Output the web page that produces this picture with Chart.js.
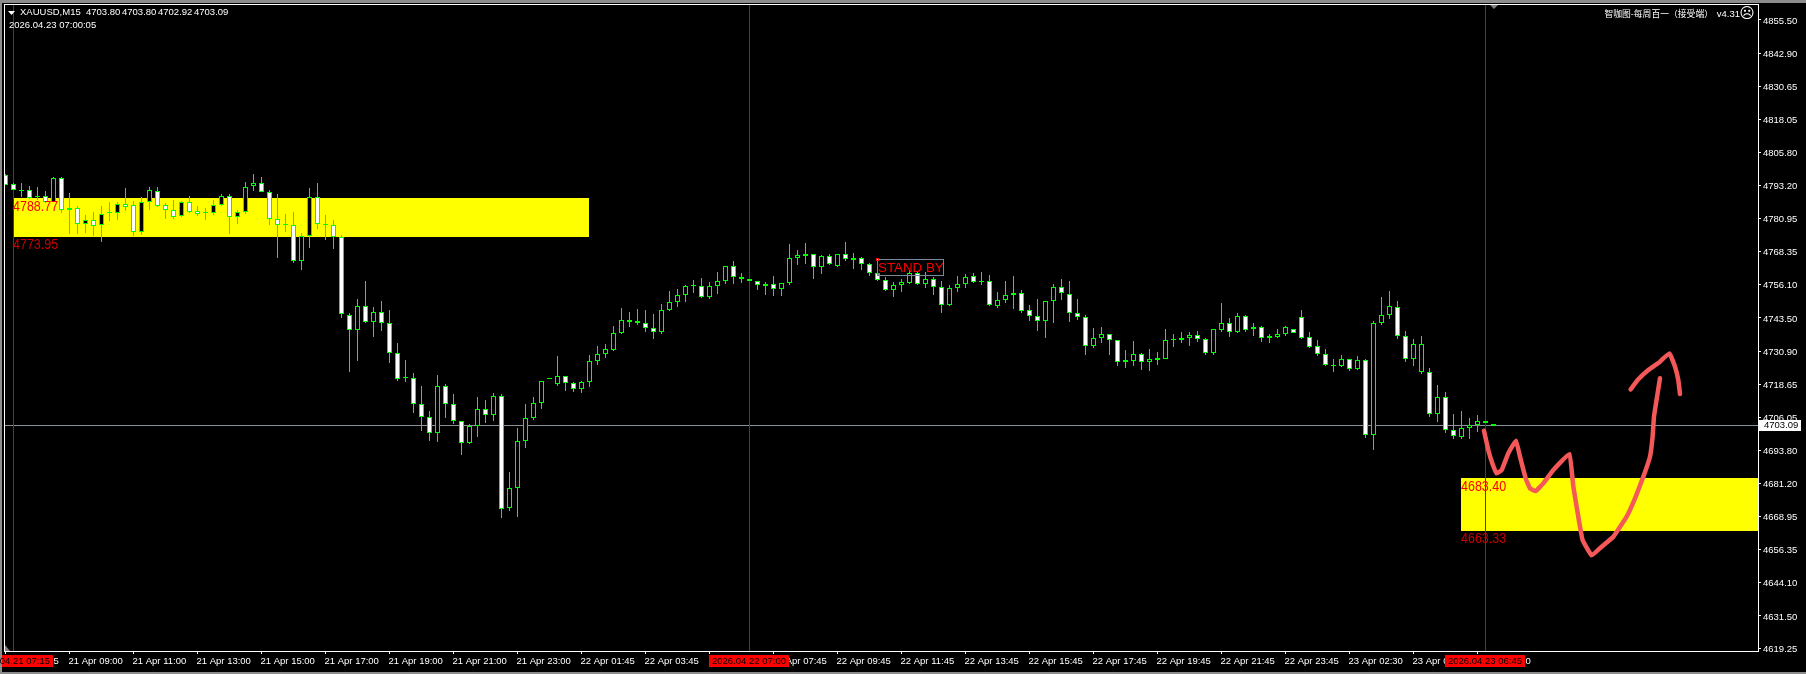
<!DOCTYPE html>
<html>
<head>
<meta charset="utf-8">
<style>
html, body { margin: 0; padding: 0; background: #000; overflow: hidden; }
canvas { display: block; }
</style>
<script src="https://cdn.jsdelivr.net/npm/chart.js@4/dist/chart.umd.min.js"></script>
</head>
<body>
<canvas id="c" width="1806" height="674"></canvas>
<script>
// XAUUSD M15, bar values
var opens = [
  4797.1,4793.7,4791.7,4791.5,4789.2,4789.2,4787.2,4796.0,4783.9,4784.7,
  4778.7,4780.2,4778.3,4782.8,4782.8,4786.2,4785.8,4775.7,4787.0,4791.1,
  4785.8,4783.9,4781.7,4787.0,4783.6,4782.8,4782.8,4785.8,4789.2,4781.3,
  4783.2,4793.0,4794.1,4790.7,4780.6,4778.3,4778.3,4764.8,4774.4,4788.9,
  4778.6,4778.3,4773.8,4744.5,4738.9,4747.9,4742.1,4745.6,4741.5,4730.2,
  4720.8,4720.8,4711.0,4706.2,4700.1,4717.8,4711.0,4704.6,4696.4,4702.8,
  4709.2,4707.1,4714.0,4671.9,4679.5,4697.1,4705.8,4711.4,4720.4,4718.6,
  4721.6,4718.9,4716.7,4719.3,4727.2,4729.8,4731.3,4737.7,4742.8,4742.4,
  4741.8,4739.6,4738.1,4746.4,4749.4,4752.0,4755.4,4755.4,4751.3,4755.4,
  4757.3,4762.9,4758.8,4758.0,4757.3,4755.4,4756.1,4754.3,4756.5,4765.9,
  4767.5,4767.4,4762.5,4766.7,4763.2,4767.4,4765.9,4765.9,4763.7,4760.3,
  4757.6,4753.9,4755.8,4756.8,4760.3,4756.1,4758.0,4755.0,4748.2,4754.6,
  4756.1,4759.2,4756.9,4757.3,4748.0,4750.1,4752.0,4752.8,4746.4,4744.1,
  4742.2,4750.0,4755.0,4752.4,4745.2,4743.7,4732.8,4735.9,4737.4,4735.1,
  4727.6,4727.4,4729.8,4726.8,4728.4,4728.2,4735.1,4735.1,4736.1,4737.0,
  4735.5,4730.2,4739.1,4741.5,4738.4,4744.1,4739.2,4740.0,4736.6,4736.5,
  4737.4,4739.2,4743.7,4736.2,4732.8,4729.8,4725.6,4725.6,4728.0,4724.2,
  4727.6,4699.4,4741.5,4744.5,4747.5,4736.6,4728.0,4723.1,4723.1,4707.3,
  4713.7,4701.3,4698.6,4702.0,4703.2,4704.7,4703.80
];
var highs = [
  4797.6,4794.1,4794.2,4793.1,4792.7,4791.2,4796.4,4796.4,4790.5,4785.6,
  4782.1,4783.3,4785.6,4787.1,4787.1,4792.4,4787.3,4788.9,4792.6,4792.6,
  4786.6,4787.8,4787.5,4789.2,4785.6,4784.8,4787.8,4790.1,4790.1,4783.9,
  4794.5,4797.6,4796.4,4791.5,4790.0,4782.6,4783.3,4775.3,4792.4,4794.2,
  4782.2,4780.3,4774.6,4745.2,4750.6,4757.3,4747.6,4749.9,4746.5,4734.1,
  4727.7,4722.8,4717.9,4708.5,4722.1,4718.7,4714.9,4704.6,4703.6,4713.8,
  4712.7,4715.3,4714.9,4685.6,4702.1,4711.2,4713.8,4720.0,4720.4,4729.2,
  4721.6,4719.4,4719.7,4729.6,4733.0,4733.7,4740.5,4747.2,4745.7,4746.9,
  4746.5,4745.0,4748.8,4753.6,4754.4,4755.9,4757.8,4758.5,4757.0,4760.8,
  4763.0,4764.9,4760.4,4758.0,4757.3,4757.0,4759.3,4756.5,4771.3,4769.0,
  4771.7,4767.6,4767.2,4767.4,4767.4,4772.1,4767.9,4766.3,4764.0,4760.9,
  4759.0,4756.9,4758.0,4761.5,4760.9,4760.8,4758.9,4757.4,4755.9,4759.3,
  4760.0,4760.4,4760.8,4759.7,4753.3,4757.4,4759.3,4754.0,4748.4,4750.6,
  4749.9,4756.3,4758.2,4757.4,4750.6,4744.5,4739.7,4740.1,4737.4,4735.2,
  4731.5,4734.8,4730.2,4731.8,4730.7,4739.4,4737.5,4738.2,4738.2,4738.6,
  4735.9,4739.2,4749.1,4743.5,4745.4,4744.6,4741.6,4740.5,4737.5,4739.4,
  4740.4,4739.2,4746.5,4738.2,4735.2,4731.8,4728.1,4729.6,4728.0,4729.2,
  4728.0,4742.2,4751.4,4753.6,4749.9,4738.6,4735.6,4736.7,4724.7,4718.3,
  4715.7,4707.4,4708.5,4705.9,4707.0,4704.7,4703.80
];
var lows = [
  4793.6,4791.6,4789.0,4788.3,4787.8,4786.6,4787.2,4783.1,4775.1,4775.1,
  4775.4,4774.3,4772.0,4779.9,4780.3,4783.6,4774.3,4774.7,4784.1,4785.3,
  4780.7,4780.7,4781.5,4782.8,4781.8,4780.5,4782.2,4785.6,4775.1,4778.8,
  4782.7,4791.2,4790.7,4778.4,4766.0,4775.8,4764.3,4761.5,4769.8,4776.9,
  4772.8,4769.4,4743.6,4723.2,4727.3,4741.6,4736.3,4738.6,4726.6,4719.9,
  4719.4,4707.8,4701.0,4697.3,4696.9,4705.9,4703.6,4692.0,4696.1,4698.8,
  4704.0,4704.8,4668.3,4670.9,4668.7,4694.6,4705.2,4709.3,4720.4,4717.9,
  4716.0,4715.7,4715.3,4717.6,4725.8,4728.5,4731.1,4737.5,4740.1,4740.9,
  4738.2,4735.6,4737.5,4746.1,4747.6,4749.5,4752.9,4751.0,4750.6,4752.5,
  4756.3,4756.3,4756.7,4757.3,4754.0,4752.1,4751.8,4751.8,4755.9,4763.4,
  4763.8,4758.2,4760.0,4763.4,4762.7,4764.9,4761.9,4761.5,4759.3,4757.3,
  4753.6,4751.4,4753.3,4756.3,4755.9,4754.8,4752.1,4745.4,4748.0,4753.3,
  4754.8,4756.5,4755.9,4748.0,4747.2,4749.1,4746.9,4745.4,4742.4,4738.6,
  4736.0,4741.6,4750.3,4742.0,4742.7,4729.6,4732.2,4734.1,4729.6,4725.5,
  4724.7,4725.5,4724.0,4723.6,4725.8,4728.1,4732.6,4734.1,4733.0,4734.5,
  4729.6,4729.6,4738.2,4736.4,4737.9,4738.2,4736.7,4734.5,4734.1,4736.0,
  4736.7,4737.7,4735.6,4732.2,4729.2,4725.5,4723.2,4725.0,4723.6,4723.9,
  4698.4,4693.9,4740.9,4743.1,4735.6,4727.0,4725.5,4722.5,4706.3,4704.4,
  4700.1,4698.0,4698.0,4698.0,4700.6,4703.9,4702.92
];
var closes = [
  4793.6,4791.7,4791.4,4788.7,4788.8,4787.0,4796.0,4783.9,4784.7,4778.7,
  4780.2,4778.2,4782.5,4782.8,4786.2,4785.3,4775.7,4787.0,4791.5,4785.5,
  4783.9,4781.6,4787.0,4783.2,4782.5,4782.8,4785.8,4789.2,4781.3,4783.2,
  4792.6,4794.1,4790.7,4780.6,4778.3,4778.3,4764.8,4774.4,4788.9,4778.7,
  4778.6,4773.8,4744.9,4738.9,4747.9,4742.1,4745.6,4741.5,4730.2,4720.7,
  4720.8,4711.0,4706.2,4700.1,4717.8,4711.0,4704.6,4696.4,4702.8,4709.2,
  4707.1,4714.0,4671.6,4679.5,4697.1,4705.8,4711.4,4720.0,4720.4,4721.6,
  4718.9,4716.7,4719.3,4727.2,4729.8,4731.7,4737.7,4742.6,4742.1,4741.7,
  4739.6,4738.1,4746.4,4749.4,4752.0,4755.4,4755.4,4751.3,4755.4,4757.3,
  4762.9,4758.8,4758.0,4757.3,4755.8,4756.1,4754.3,4756.5,4765.9,4767.0,
  4766.9,4762.5,4766.7,4763.7,4767.4,4765.5,4765.2,4763.7,4760.3,4757.6,
  4753.9,4755.8,4756.9,4760.3,4756.1,4758.0,4755.0,4748.2,4754.6,4756.1,
  4758.8,4756.9,4756.9,4748.2,4750.1,4752.0,4752.8,4746.2,4744.1,4742.2,
  4749.8,4755.0,4752.8,4745.2,4743.7,4732.8,4735.9,4737.4,4735.1,4726.8,
  4727.0,4729.8,4726.8,4728.0,4727.8,4735.1,4735.1,4735.9,4737.0,4735.7,
  4730.2,4739.2,4741.5,4738.4,4744.1,4739.1,4740.0,4735.9,4735.9,4737.4,
  4740.0,4737.7,4736.1,4732.7,4729.8,4725.7,4725.6,4728.0,4724.2,4727.6,
  4699.4,4741.5,4744.5,4747.9,4736.6,4728.0,4733.6,4733.6,4707.3,4713.7,
  4701.3,4699.0,4702.0,4703.2,4704.7,4703.9,4703.09
];

var priceTicks = [4855.50,4842.90,4830.65,4818.05,4805.80,4793.20,4780.95,4768.35,4756.10,4743.50,
  4730.90,4718.65,4706.05,4693.80,4681.20,4668.95,4656.35,4644.10,4631.50,4619.25];

// one label every 8 bars
var timeLabels = ['21 Apr 07:15','21 Apr 09:00','21 Apr 11:00','21 Apr 13:00','21 Apr 15:00','21 Apr 17:00',
  '21 Apr 19:00','21 Apr 21:00','21 Apr 23:00','22 Apr 01:45','22 Apr 03:45','22 Apr 05:45','22 Apr 07:45',
  '22 Apr 09:45','22 Apr 11:45','22 Apr 13:45','22 Apr 15:45','22 Apr 17:45','22 Apr 19:45','22 Apr 21:45',
  '22 Apr 23:45','23 Apr 02:30','23 Apr 04:30','23 Apr 06:30'];

// yellow boxes: first bar, last bar (null = to the axis), top price, bottom price
var zoneStart = [1, 182];
var zoneEnd = [73, null];
var zoneTop = [4788.77, 4683.40];
var zoneBottom = [4773.95, 4663.33];

var lastPrice = 4703.09;

// crosshair bars and the time shown in their red tag
var crossBars = [1, 93, 185];
var crossTimes = ['2026.04.21 07:15', '2026.04.22 07:00', '2026.04.23 06:45'];

// hand drawn red arrow, in bar index / price
var strokeBar = [184.81,185.35,185.85,186.39,187.02,187.85,188.81,189.31,190.02,190.56,191.27,192.23,193.48,195.48,
  195.98,196.6,197.14,198.27,199.52,200.98,202.64,203.69,204.73,205.56,205.89,206.06,206.48,206.81];
var strokePrice = [4701.15,4693.88,4688.87,4685.11,4686.36,4692.63,4697.39,4691.38,4683.23,4679.47,4678.47,4681.35,4686.36,4692.38,
  4680.10,4668.82,4660.05,4654.29,4657.55,4661.3,4668.82,4675.71,4683.86,4691.38,4698.89,4706.41,4714.56,4720.82];
var headBar = [203.14,204.1,205.35,206.81,207.98,208.69,209.1,209.31];
var headPrice = [4716.68,4720.44,4723.95,4727.08,4730.22,4725.2,4720.2,4714.93];

var GREEN = '#00ff00';
var AXIS_FONT = { family: '"Liberation Sans", sans-serif', size: 9.5 };

function pairs(xs, ys) {
  return xs.map(function (x, i) { return { x: x, y: ys[i] }; });
}

var wicks = highs.map(function (h, i) { return { x: i, y: [lows[i], h] }; });
var bodies = opens.map(function (o, i) { return { x: i, y: [o, closes[i]] }; });

function text(ctx, str, x, y, font, color, align) {
  ctx.font = font;
  ctx.fillStyle = color;
  ctx.textAlign = align || 'left';
  ctx.textBaseline = 'middle';
  ctx.fillText(str, x, y);
}

// the terminal's price labels are narrow and tall
function tallText(ctx, str, x, y, font, color) {
  ctx.save();
  ctx.translate(x, y);
  ctx.scale(1, 1.18);
  text(ctx, str, 0, 0, font, color);
  ctx.restore();
}

var terminal = {
  id: 'terminal',
  // whole pixels, so the candles stay as hard edged as in the terminal
  afterDatasetsUpdate: function (chart) {
    chart.data.datasets.forEach(function (ds, k) {
      if (ds.type === 'line') return;
      chart.getDatasetMeta(k).data.forEach(function (el) {
        el.y = Math.round(el.y);
        el.base = Math.round(el.base);
      });
    });
  },
  beforeDraw: function (chart) {
    var ctx = chart.ctx;
    ctx.fillStyle = '#000';
    ctx.fillRect(0, 0, 1806, 674);
    ctx.fillStyle = '#8c8c8c';
    ctx.fillRect(0, 0, 1806, 3);
    ctx.fillRect(0, 0, 2, 674);
    ctx.fillRect(0, 672, 1806, 2);
  },
  beforeDatasetsDraw: function (chart) {
    var ctx = chart.ctx, xs = chart.scales.x, ys = chart.scales.y, a = chart.chartArea;
    ctx.save();
    ctx.fillStyle = '#ffff00';
    zoneStart.forEach(function (s, i) {
      var x0 = Math.floor(xs.getPixelForValue(s)) + (i === 0 ? 1 : 0);
      var x1 = zoneEnd[i] === null ? a.right : Math.floor(xs.getPixelForValue(zoneEnd[i]));
      var y0 = Math.round(ys.getPixelForValue(zoneTop[i]));
      var y1 = Math.round(ys.getPixelForValue(zoneBottom[i]));
      ctx.fillRect(x0, y0, x1 - x0, y1 - y0);
    });
    ctx.fillStyle = '#8a929a';
    ctx.fillRect(a.left, Math.floor(ys.getPixelForValue(lastPrice)), a.right - a.left, 1);
    ctx.fillStyle = '#dd0000';
    crossBars.forEach(function (b) {
      ctx.fillRect(Math.floor(xs.getPixelForValue(b)), a.top, 1, a.bottom - a.top);
    });
    ctx.restore();
  },
  afterDraw: function (chart) {
    var ctx = chart.ctx, xs = chart.scales.x, ys = chart.scales.y, a = chart.chartArea;
    var sans = '"Liberation Sans", sans-serif';
    ctx.save();

    // frame
    ctx.fillStyle = '#fff';
    ctx.fillRect(a.left, a.top, a.right - a.left + 1, 1);
    ctx.fillRect(a.left, a.top, 1, a.bottom - a.top + 1);
    ctx.fillRect(a.right, a.top, 1, a.bottom - a.top + 1);
    ctx.fillRect(a.left, a.bottom, a.right - a.left + 1, 1);

    // zone price labels
    zoneStart.forEach(function (s, i) {
      var x = Math.floor(xs.getPixelForValue(s));
      tallText(ctx, zoneTop[i].toFixed(2), x, ys.getPixelForValue(zoneTop[i]) + 9, '12.5px ' + sans, '#ff0000');
      tallText(ctx, zoneBottom[i].toFixed(2), x, ys.getPixelForValue(zoneBottom[i]) + 8, '12.5px ' + sans, '#cc0000');
    });

    // STAND BY object, box sits on the price/bar it was placed at
    var sx = Math.round(xs.getPixelForValue(109)) - 1, sy = Math.round(ys.getPixelForValue(4765.7));
    ctx.strokeStyle = '#778899';
    ctx.lineWidth = 1;
    ctx.strokeRect(sx + 0.5, sy + 0.5, 66, 16);
    text(ctx, 'STAND BY', sx + 1, sy + 9, '13.33px ' + sans, '#ff0000');
    ctx.fillStyle = '#ff0000';
    ctx.fillRect(sx - 1, sy - 1, 3, 3);
    ctx.fillStyle = '#fff';
    ctx.fillRect(sx, sy, 1, 1);
    ctx.fillStyle = '#778899';
    ctx.fillRect(sx, sy + 14, 3, 3);

    // header
    ctx.fillStyle = '#fff';
    ctx.beginPath();
    ctx.moveTo(8, 11);
    ctx.lineTo(15, 11);
    ctx.lineTo(11.5, 15);
    ctx.closePath();
    ctx.fill();
    var hdr = '9.5px ' + sans;
    text(ctx, 'XAUUSD,M15', 20, 12.5, hdr, '#fff');
    ['4703.80', '4703.80', '4702.92', '4703.09'].forEach(function (p, i) {
      text(ctx, p, 86 + i * 36, 12.5, hdr, '#fff');
    });
    text(ctx, '2026.04.23 07:00:05', 9, 25.5, hdr, '#fff');
    text(ctx, '智咖图-每周百一（接受端）', 1713, 14, '8.8px "Noto Sans CJK SC", sans-serif', '#fff', 'right');
    text(ctx, 'v4.31', 1740, 14, hdr, '#fff', 'right');
    text(ctx, '☹', 1747, 14, '15px "DejaVu Sans", sans-serif', '#fff', 'center');

    // shift marks
    ctx.fillStyle = '#808080';
    ctx.beginPath();
    ctx.moveTo(1490, 5);
    ctx.lineTo(1498, 5);
    ctx.lineTo(1494, 9);
    ctx.closePath();
    ctx.fill();
    ctx.beginPath();
    ctx.moveTo(5, 645);
    ctx.lineTo(5, 651);
    ctx.lineTo(10, 651);
    ctx.closePath();
    ctx.fill();

    // last price tag
    var ly = Math.floor(ys.getPixelForValue(lastPrice));
    ctx.fillStyle = '#fff';
    ctx.fillRect(a.right + 1, ly - 5, 42, 11);
    text(ctx, lastPrice.toFixed(2), a.right + 6, ly + 0.5, AXIS_FONT.size + 'px ' + sans, '#000');

    // red crosshair time tags
    crossBars.forEach(function (b, i) {
      var cx = Math.floor(xs.getPixelForValue(b));
      ctx.fillStyle = '#ff0000';
      ctx.fillRect(Math.max(2, cx - 40), 655, cx + 40 - Math.max(2, cx - 40), 12);
      text(ctx, crossTimes[i], cx, 661, AXIS_FONT.size + 'px ' + sans, '#000', 'center');
    });
    ctx.restore();
  }
};

new Chart(document.getElementById('c'), {
  data: {
    datasets: [
      { type: 'bar', data: wicks, order: 3, grouped: false, barPercentage: 1, categoryPercentage: 1,
        maxBarThickness: 1, backgroundColor: GREEN, borderWidth: 0, inflateAmount: 0 },
      { type: 'bar', data: bodies, order: 2, grouped: false, barPercentage: 1, categoryPercentage: 1,
        maxBarThickness: 5, minBarLength: 1, borderWidth: 1, borderColor: GREEN, borderSkipped: false, inflateAmount: 0,
        backgroundColor: function (c) { return closes[c.dataIndex] < opens[c.dataIndex] ? '#ffffff' : '#000000'; } },
      { type: 'line', data: pairs(strokeBar, strokePrice), order: 1, borderColor: '#f45858', borderWidth: 4.5,
        borderCapStyle: 'round', borderJoinStyle: 'round', pointRadius: 0, tension: 0.1, fill: false },
      { type: 'line', data: pairs(headBar, headPrice), order: 1, borderColor: '#f45858', borderWidth: 4.5,
        borderCapStyle: 'round', borderJoinStyle: 'round', pointRadius: 0, tension: 0.1, fill: false }
    ]
  },
  options: {
    responsive: false,
    animation: false,
    devicePixelRatio: 1,
    layout: { padding: { left: 4, top: 4, right: 0, bottom: 0 } },
    plugins: { legend: { display: false }, title: { display: false }, tooltip: { enabled: false } },
    scales: {
      x: {
        type: 'linear',
        position: 'bottom',
        offset: false,
        min: -0.1875,
        max: 219.0625,
        afterBuildTicks: function (s) { s.ticks = timeLabels.map(function (_, i) { return { value: i * 8 }; }); },
        afterFit: function (s) { s.height = 23; s.paddingLeft = 0; s.paddingRight = 0; },
        border: { display: false },
        grid: { offset: false, drawOnChartArea: false, drawTicks: true, tickLength: 3, tickColor: '#fff' },
        ticks: {
          color: '#fff', font: AXIS_FONT, align: 'start', autoSkip: false, maxRotation: 0, padding: 2, labelOffset: -1,
          callback: function (v) { return timeLabels[v / 8]; }
        }
      },
      y: {
        type: 'linear',
        position: 'right',
        min: 4618.34,
        max: 4861.51,
        afterBuildTicks: function (s) { s.ticks = priceTicks.map(function (p) { return { value: p }; }); },
        afterFit: function (s) { s.width = 48; s.paddingTop = 0; s.paddingBottom = 0; },
        border: { display: false },
        grid: { drawOnChartArea: false, drawTicks: true, tickLength: 3, tickColor: '#fff' },
        ticks: {
          color: '#fff', font: AXIS_FONT, autoSkip: false, padding: 2, labelOffset: 1,
          callback: function (v) { return v.toFixed(2); }
        }
      }
    }
  },
  plugins: [terminal]
});
</script>
</body>
</html>
